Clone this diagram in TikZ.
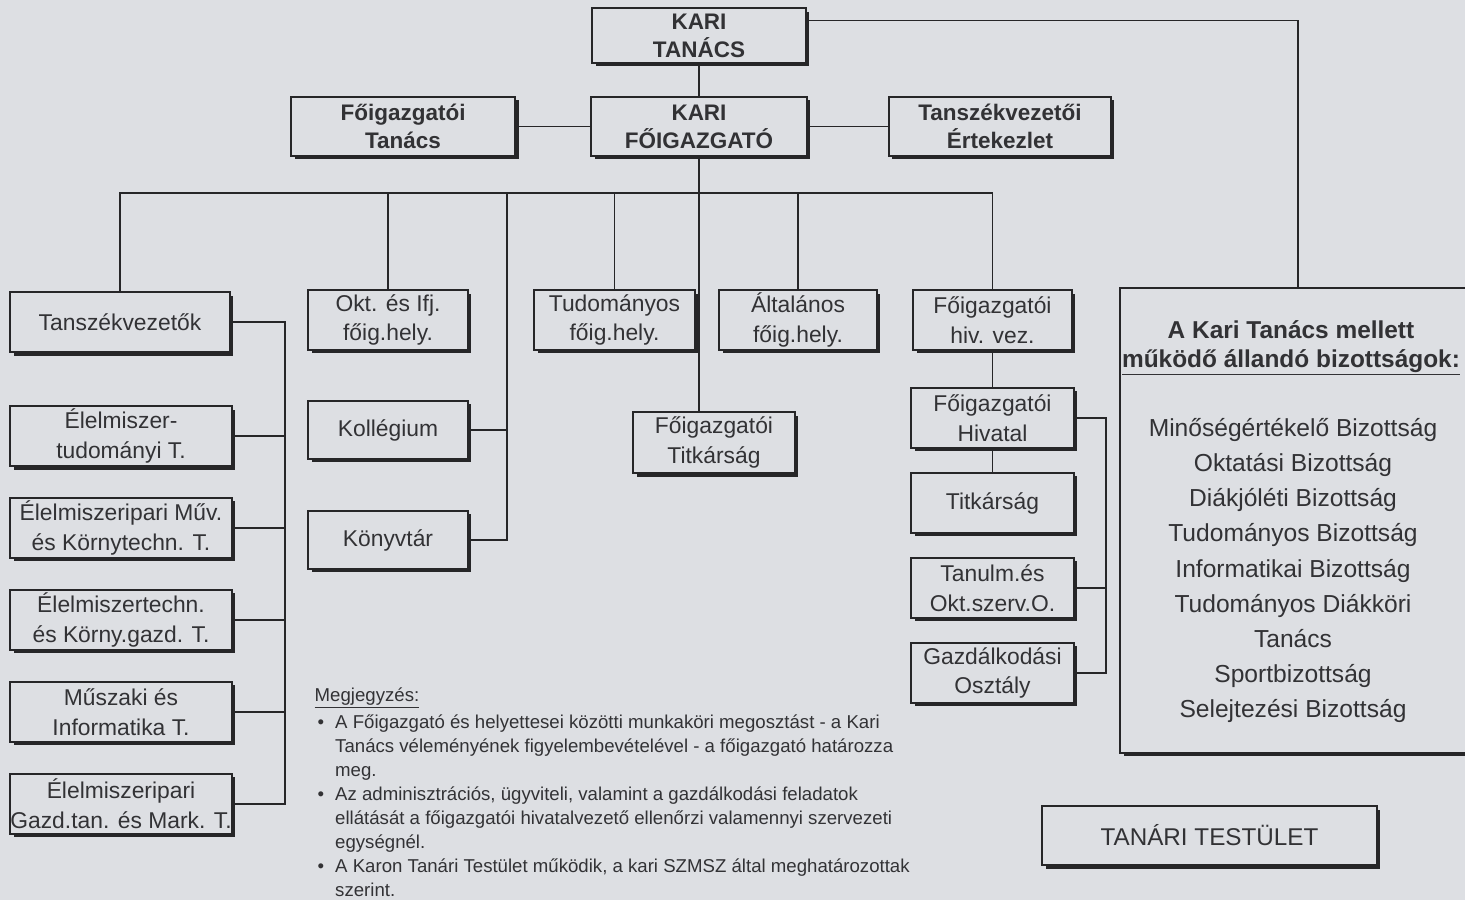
\documentclass[tikz,border=0pt]{standalone}
\usepackage{fontspec}
\setmainfont{Liberation Sans}
\usetikzlibrary{shadows}
\definecolor{paper}{RGB}{221,223,227}
\definecolor{ink}{RGB}{38,38,40}
\definecolor{txt}{RGB}{50,50,53}
\newcommand\boxfont{\fontsize{13pt}{17pt}\selectfont}
\newcommand\leadfont{\fontsize{12.8pt}{16pt}\selectfont\bfseries}
\newcommand\bizhead{\fontsize{13.9pt}{16.5pt}\selectfont\bfseries}
\newcommand\bizlist{\fontsize{14pt}{20pt}\selectfont}
\newcommand\notefont{\fontsize{10.6pt}{13.6pt}\selectfont}

\begin{document}
\begin{tikzpicture}[x=0.02cm, y=-0.02cm, thick, color=ink, node distance=2cm,
  unit node/.style={rectangle, draw=ink, line width=1.1pt, fill=paper, text=txt, align=center, inner sep=0pt, font=\boxfont,
    drop shadow={shadow xshift=0.07cm, shadow yshift=-0.07cm, opacity=1, fill=ink}},
  lead node/.style={unit node, font=\leadfont, minimum height=1.18cm},
  wide node/.style={unit node, minimum width=4.44cm, minimum height=1.2cm},
  narrow node/.style={unit node, minimum width=3.2cm, minimum height=1.2cm}]
\useasboundingbox (0,0) rectangle (1465,900);
\fill[paper] (0,0) rectangle (1465,900);

% top
\node[lead node, minimum width=4.28cm, minimum height=1.1cm](0) at (699,35.5) {KARI\\TANÁCS};
\node[lead node, minimum width=4.32cm, node distance=1.82cm](1)[below of=0] {KARI\\FŐIGAZGATÓ};
\node[lead node, minimum width=4.48cm, node distance=5.92cm](2)[left of=1] {Főigazgatói\\Tanács};
\node[lead node, minimum width=4.44cm, node distance=6.02cm](3)[right of=1] {Tanszékvezetői\\Értekezlet};

% tanszekek
\node[wide node, minimum width=4.4cm](4) at (120,322) {Tanszékvezetők};
\node[wide node](5) at (121,436) {Élelmiszer-\\tudományi T.};
\node[wide node, node distance=1.84cm](6)[below of=5] {Élelmiszeripari Műv.\\és Környtechn. T.};
\node[wide node, node distance=1.84cm](7)[below of=6] {Élelmiszertechn.\\és Körny.gazd. T.};
\node[wide node, node distance=1.84cm](8)[below of=7] {Műszaki és\\Informatika T.};
\node[wide node, node distance=1.84cm](9)[below of=8] {Élelmiszeripari\\Gazd.tan. és Mark. T.};

% helyettesek
\node[narrow node](10) at (388,320) {Okt. és Ifj.\\főig.hely.};
\node[narrow node, minimum height=1.16cm, node distance=2.2cm](11)[below of=10] {Kollégium};
\node[narrow node, minimum height=1.16cm, node distance=2.2cm](12)[below of=11] {Könyvtár};
\node[narrow node, minimum width=3.22cm](13) at (614.5,320) {Tudományos\\főig.hely.};
\node[narrow node, minimum width=3.16cm](14) at (798,320) {Általános\\főig.hely.};
\node[narrow node, minimum width=3.24cm, minimum height=1.22cm](15) at (714,442.5) {Főigazgatói\\Titkárság};

% hivatal
\node[narrow node, minimum width=3.18cm](16) at (992.5,320) {Főigazgatói\\hiv. vez.};
\node[narrow node, minimum width=3.26cm, node distance=1.96cm](17)[below of=16] {Főigazgatói\\Hivatal};
\node[narrow node, minimum width=3.26cm, node distance=1.7cm](18)[below of=17] {Titkárság};
\node[narrow node, minimum width=3.26cm, node distance=1.7cm](19)[below of=18] {Tanulm.és\\Okt.szerv.O.};
\node[narrow node, minimum width=3.26cm, node distance=1.7cm](20)[below of=19] {Gazdálkodási\\Osztály};

% bizottsagok
\node[unit node, minimum width=7.12cm, minimum height=9.3cm](21) at (1298,520.5) {};
\node[font=\bizhead, text=txt, align=center, inner sep=0pt](22) at (1291,348) {A Kari Tanács mellett\\\underline{működő állandó bizottságok:}};
\node[font=\bizlist, text=txt, align=center, inner sep=0pt](23) at (1293,570.5) {Minőségértékelő Bizottság\\Oktatási Bizottság\\Diákjóléti Bizottság\\Tudományos Bizottság\\Informatikai Bizottság\\Tudományos Diákköri\\Tanács\\Sportbizottság\\Selejtezési Bizottság};
\node[unit node, minimum width=6.7cm, minimum height=1.18cm, font=\fontsize{13.8pt}{16pt}\selectfont](24) at (1209.5,835.5) {TANÁRI TESTÜLET};

% megjegyzes
\node[font=\notefont, text=txt, anchor=north west, inner sep=0pt](25) at (314,684) {%
\begin{tabular}{@{}l@{\hspace{0.22cm}}l@{}}
\multicolumn{2}{@{}l@{}}{\underline{Megjegyzés:}}\\[2pt]
\hspace{0.06cm}\textbullet & A Főigazgató és helyettesei közötti munkaköri megosztást - a Kari\\
 & Tanács véleményének figyelembevételével - a főigazgató határozza\\
 & meg.\\
\hspace{0.06cm}\textbullet & Az adminisztrációs, ügyviteli, valamint a gazdálkodási feladatok\\
 & ellátását a főigazgatói hivatalvezető ellenőrzi valamennyi szervezeti\\
 & egységnél.\\
\hspace{0.06cm}\textbullet & A Karon Tanári Testület működik, a kari SZMSZ által meghatározottak\\
 & szerint.
\end{tabular}};

\coordinate (bus) at (0,193);
\coordinate (lb) at (285,0);
\coordinate (kb) at (507,193);
\coordinate (rb) at (1106,0);

\draw[-](0)to(1);
\draw[-](2)to(1);
\draw[-](1)to(3);
\draw[-](0.8) -| (21.north);
\draw[-](1.south) -- (1.south |- 15.north);
\draw[-](4.north) -- (4.north |- bus) -- (16.north |- bus) -- (16.north);
\foreach \n in {10,13,14}
  \draw[-](\n.north) -- (\n.north |- bus);
\draw[-](kb) |- (12.east);
\draw[-](11.east) -- (11.east -| kb);
\draw[-](4.east) -- (4.east -| lb) -- (9.east -| lb) -- (9.east);
\foreach \n in {5,...,8}
  \draw[-](\n.east) -- (\n.east -| lb);
\draw[-](16)to(17);
\draw[-](17)to(18);
\draw[-](17.east) -- (17.east -| rb) -- (20.east -| rb) -- (20.east);
\draw[-](19.east) -- (19.east -| rb);
\end{tikzpicture}
\end{document}
